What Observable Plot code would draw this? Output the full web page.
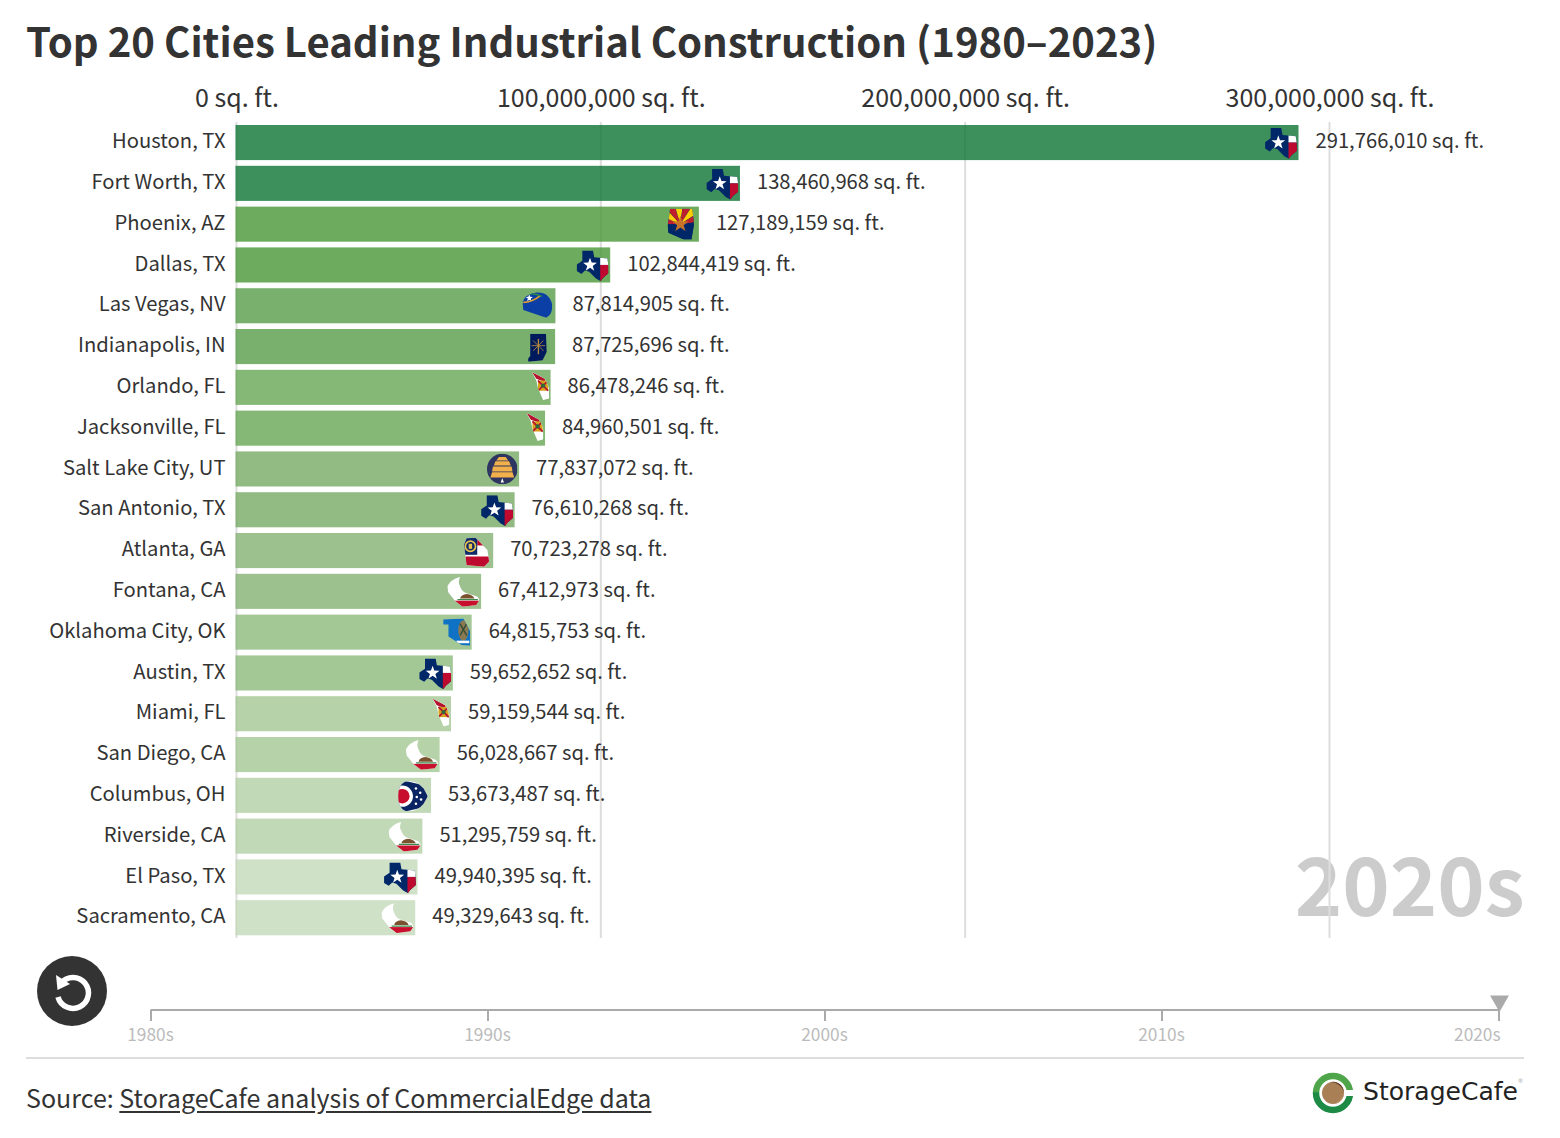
<!DOCTYPE html>
<html><head><meta charset="utf-8">
<script src="https://cdn.jsdelivr.net/npm/d3@7"></script>
<script src="https://cdn.jsdelivr.net/npm/@observablehq/plot@0.6"></script>
<style>
html,body{margin:0;padding:0;background:#fff;}
body{width:1560px;height:1138px;overflow:hidden;font-family:"Noto Sans CJK SC","Open Sans",sans-serif;color:#333;}
#title{height:76px;box-sizing:border-box;margin:0;padding:10px 0 0 26px;font-size:40.1px;line-height:60px;font-weight:700;color:#333;white-space:nowrap;}
#chart,#timeline{display:block;line-height:0;}
#timelineRow{display:flex;height:112px;}
#replay{width:110px;height:112px;flex:none;display:block;}
#footer{position:relative;margin:0 36px 0 26px;border-top:2px solid #ddd;height:78px;box-sizing:border-box;}
#source{position:absolute;left:0;top:18px;font-size:25.04px;line-height:40px;white-space:nowrap;}
#source a{color:#333;text-decoration:underline;text-underline-offset:3px;}
#logo{position:absolute;right:0;top:13px;width:214px;height:44px;display:block;}
</style></head>
<body>
<h1 id="title">Top 20 Cities Leading Industrial Construction (1980–2023)</h1>
<div id="chart"></div>
<div id="timelineRow">
<svg id="replay" viewBox="0 0 110 112"><circle cx="72" cy="46" r="35" fill="#333"/>
<path d="M61 38 A15.5 15.5 0 1 1 58 52" fill="none" stroke="#fff" stroke-width="5.5"/>
<path d="M56 30 L57.5 45 L70 39Z" fill="#fff"/></svg>
<div id="timeline"></div></div>
<div id="footer">
<div id="source">Source: <a href="#">StorageCafe analysis of CommercialEdge data</a></div>
<svg id="logo" viewBox="0 0 214 44">
<defs><linearGradient id="rg" x1="0" y1="0" x2="0" y2="1"><stop offset="0.45" stop-color="#4fa64a"/><stop offset="0.5" stop-color="#1d8a45"/></linearGradient></defs>
<circle cx="23" cy="21" r="17" fill="none" stroke="url(#rg)" stroke-width="6.5"/>
<rect x="35" y="18" width="9" height="6" fill="#fff"/>
<circle cx="23" cy="21" r="11" fill="#a97f56"/>
<path d="M19 10.5 A11 11 0 0 1 34 21 A13 13 0 0 0 19 10.5Z" fill="#5a3a22"/>
<path d="M22 32 A11 11 0 0 0 34 21 A13 13 0 0 1 22 32Z" fill="#c79c70"/>
<text x="53" y="28" font-family="'DejaVu Sans', sans-serif" font-size="24" fill="#222" textLength="155" lengthAdjust="spacingAndGlyphs">StorageCafe</text>
<text x="208" y="11" font-family="Lato, sans-serif" font-size="6" fill="#aaa">®</text>
</svg>
</div>
<script>
const cities = ["Houston, TX","Fort Worth, TX","Phoenix, AZ","Dallas, TX","Las Vegas, NV","Indianapolis, IN","Orlando, FL","Jacksonville, FL","Salt Lake City, UT","San Antonio, TX","Atlanta, GA","Fontana, CA","Oklahoma City, OK","Austin, TX","Miami, FL","San Diego, CA","Columbus, OH","Riverside, CA","El Paso, TX","Sacramento, CA"];
const areas = [291766010,138460968,127189159,102844419,87814905,87725696,86478246,84960501,77837072,76610268,70723278,67412973,64815753,59652652,59159544,56028667,53673487,51295759,49940395,49329643];
const barColors = ["#0c7333","#0c7333","#499637","#499637","#599c4a","#599c4a","#67a554","#67a554","#76aa64","#76aa64","#83b173","#83b173","#8cb97a","#8cb97a","#a4c792","#a4c792","#b3d0a5","#b3d0a5","#c3dab8","#c3dab8"];
const xTicks = [0,100000000,200000000,300000000];
const decades = ["1980s","1990s","2000s","2010s","2020s"];
const currentDecade = "2020s";

const rows = cities.map((city,i)=>({city,area:areas[i],state:city.slice(-2)}));
const sq = d => d3.format(",")(d)+" sq. ft.";
const font = '"Noto Sans CJK SC","Open Sans",sans-serif';

// State-flag silhouettes, drawn in a 40x40 icon box
const wrap = (shape,body)=>`<svg xmlns="http://www.w3.org/2000/svg" viewBox="0 0 40 40"><defs><clipPath id="c"><path d="${shape}"/></clipPath></defs><g clip-path="url(#c)">${body}</g></svg>`;
const star = (x,y,r,f="#fff")=>{let p="";for(let i=0;i<10;i++){const a=-Math.PI/2+i*Math.PI/5,q=i%2?r*.4:r;p+=`${i?"L":"M"}${(x+q*Math.cos(a)).toFixed(1)} ${(y+q*Math.sin(a)).toFixed(1)}`;}return `<path d="${p}Z" fill="${f}"/>`;};
const caBody = `<rect width="40" height="40" fill="#fff"/><path d="M14 29H38V30.5H14Z" fill="#3a8a4c"/><path d="M17 28.5Q18 23.5 25 23Q32 23.5 34 28.5Z" fill="#7a5230"/><rect y="31" width="40" height="9" fill="#c8102e"/>`;
const icons = {
 TX: wrap("M9 3L21.5 3L23 11L38.5 12.5Q40 20 40 29.5L33.5 35L30.5 39L25 36L17 28L12 26.5L8 30.5L2.5 27L2.5 19.5L9 15Z",
   `<rect width="40" height="40" fill="#002868"/><rect x="30" width="10" height="20" fill="#fff"/><rect x="30" y="20" width="10" height="20" fill="#bf0a30"/>${star(18,20,8.5)}`),
 AZ: wrap("M8 2H34L36 20L33 38L24 38L6 30L5 22Z",
   `<rect width="40" height="40" fill="#002868"/>`+[-80,-55,-30,-5,20,45,70].map((a,i)=>`<path d="M20 20L${20+32*Math.sin((a-12)*Math.PI/180)} ${20-32*Math.cos((a-12)*Math.PI/180)}L${20+32*Math.sin((a+12)*Math.PI/180)} ${20-32*Math.cos((a+12)*Math.PI/180)}Z" fill="${i%2?"#fece00":"#bf1e2e"}"/>`).join("")+`<rect y="20" width="40" height="20" fill="#002868"/>${star(20,20,10,"#c8732a")}`),
 NV: wrap("M3 18Q4 12 7 9Q13 5 20 4Q27 4 31 7Q37 12 38 19Q38 27 35 31L31 34L4 25Z",
   `<rect width="40" height="40" fill="#0b3fa6"/>${star(11,11,4.5)}<path d="M4 16Q14 16 24 8" fill="none" stroke="#e0a02a" stroke-width="2"/><path d="M7 7Q16 4 26 9" fill="none" stroke="#2f8a4a" stroke-width="1.5"/>`),
 IN: wrap("M12.5 5L31 5L32 26L27 36L10 38L10 34L12.5 31Z",
   `<rect width="40" height="40" fill="#001a5e"/><rect x="21.3" y="11" width="1.6" height="18" fill="#b58a3a"/><g fill="none" stroke="#b58a3a" stroke-width="1"><path d="M14 19H30M16 13L28 25M28 13L16 25"/></g>`),
 FL: wrap("M20 2L35 10L40 21L40 33L33 35L27 21L25 12Z",
   `<rect width="40" height="40" fill="#fff"/><path d="M20 2L35 10L36 14L25 10Z" fill="#b5122f"/><rect x="27" y="12" width="12" height="12" fill="#d8a01e"/><path d="M27 12L39 24M27 24L39 12" stroke="#b5122f" stroke-width="2"/><circle cx="33" cy="18" r="2.5" fill="#2d6a3c"/>`),
 UT: wrap("M4 20A18 18 0 1 0 40 20A18 18 0 1 0 4 20Z",
   `<rect width="40" height="40" fill="#2d3560"/><path d="M10 24H34L36 30H8ZM11 17H33L34 23H10ZM14 11H30L32 16H12ZM18 6H26L29 10H15Z" fill="#f2b04a"/><path d="M20 36L22 31L24 36Z" fill="#fff"/>`),
 GA: wrap("M10.5 5.5L21 5L35 19.5L37 33L31 39L10.5 37L7.5 13Z",
   `<rect width="40" height="40" fill="#fff"/><rect x="23" width="17" height="14" fill="#bf0a30"/><rect width="23" height="25" fill="#102a6b"/><rect y="27" width="40" height="13" fill="#bf0a30"/><circle cx="15" cy="15" r="6" fill="none" stroke="#e6c34a" stroke-width="2"/><rect x="13" y="12" width="4" height="6" fill="#e6c34a"/>`),
 CA: wrap("M17 3Q14 9 17 14Q19 20 24 22L37 26L40 30L36 36L20 38L11 31L3 21L2 14Q6 6 17 3Z", caBody),
 OK: wrap("M8.5 5L32 4L40 19L40 36L30 35L14.5 25L14.5 11L8.5 11Z",
   `<rect width="40" height="40" fill="#0f72c4"/><ellipse cx="32" cy="18" rx="6" ry="12" fill="#8a7a52"/><path d="M28 10L36 24M36 10L28 24" stroke="#2d4a34" stroke-width="1.5"/><rect x="24" y="30" width="15" height="3" fill="#fff"/>`),
 OH: wrap("M3 21Q3 8 11 4Q24 1 33 12L38 21L33 30Q24 41 11 38Q3 34 3 21Z",
   `<rect width="40" height="40" fill="#fff"/><path d="M3 1L33 8L38 21L33 34L3 41Z" fill="#0a2463"/><circle cx="8" cy="21" r="12.5" fill="#fff"/><circle cx="8" cy="21" r="8.5" fill="#c8102e"/><g fill="#fff"><circle cx="24" cy="12" r="1.5"/><circle cx="29" cy="17" r="1.5"/><circle cx="25" cy="22" r="1.5"/><circle cx="30" cy="25" r="1.5"/><circle cx="24" cy="30" r="1.5"/></g>`)
};
const iconSrc = d => "data:image/svg+xml;charset=utf-8,"+encodeURIComponent(icons[d.state]);

const chart = Plot.plot({
  width:1560, height:869, marginTop:46, marginBottom:7, marginLeft:236, marginRight:36,
  style:{fontFamily:font,background:"transparent",color:"#333"},
  x:{domain:[0,300000000],range:[235.5,1328.5]},
  y:{domain:cities,range:[43.3,865],padding:0.14,round:false},
  color:{type:"ordinal",domain:cities,range:barColors},
  marks:[
    Plot.text([currentDecade],{frameAnchor:"bottom-right",dy:-23,fontSize:80.5,fontWeight:700,fill:"#ccc",fontFamily:font}),
    Plot.ruleX(xTicks,{stroke:"#ddd",strokeWidth:2,dx:0.5}),
    Plot.barX(rows,{x:"area",y:"city",fill:"city",fillOpacity:0.8}),
    Plot.image(rows,{x:"area",y:"city",src:iconSrc,width:34,height:34,dx:-19,dy:-0.5}),
    Plot.text(rows,{x:"area",y:"city",text:d=>sq(d.area),textAnchor:"start",dx:16.5,dy:-1.4,fontSize:20.2,fill:"#333",fontFamily:font}),
    Plot.axisX({anchor:"top",ticks:xTicks,tickSize:0,tickPadding:16,dx:1,label:null,tickFormat:sq,fontSize:25,fill:"#333",fontFamily:font}),
    Plot.axisY({anchor:"left",tickSize:0,tickPadding:11,dy:-1.4,label:null,fontSize:20.2,fill:"#333",fontFamily:font})
  ]
});
document.getElementById("chart").append(chart);

const earlierDecades = decades.filter(d=>d!==currentDecade);
const tl = Plot.plot({
  width:1450, height:112, marginTop:0, marginBottom:0, marginLeft:0, marginRight:0,
  style:{fontFamily:font,background:"transparent"},
  x:{type:"point",domain:decades,range:[39.5,1390],padding:0,axis:null},
  y:{domain:[0,1],range:[64.5,76],axis:null},
  marks:[
    Plot.link([decades],{x1:d=>d[0],x2:d=>d[d.length-1],y1:()=>0,y2:()=>0,dx:-0.5,stroke:"#aaa",strokeWidth:2}),
    Plot.ruleX(decades,{y1:0,y2:1,dx:-0.5,stroke:"#aaa",strokeWidth:2}),
    Plot.text(earlierDecades,{x:d=>d,y:()=>1,dy:14,dx:-1,text:d=>d,textAnchor:"middle",fontSize:17.3,fill:"#bbb",fontFamily:font}),
    Plot.text([currentDecade],{x:d=>d,y:()=>1,dy:14,dx:1,text:d=>d,textAnchor:"end",fontSize:17.3,fill:"#bbb",fontFamily:font}),
    Plot.dot([currentDecade],{x:d=>d,y:()=>0,dy:-9,symbol:"triangle",r:7,rotate:180,fill:"#aaa",stroke:"none"})
  ]
});
document.getElementById("timeline").append(tl);
</script>
</body></html>
